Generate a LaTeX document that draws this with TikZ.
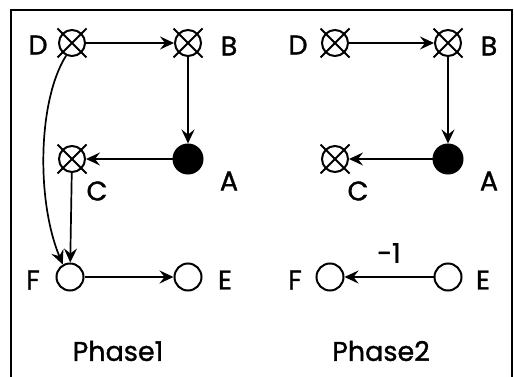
\documentclass[tikz,border=0pt]{standalone}
\usepackage{fontspec}
\setmainfont{Poppins}[FakeBold=1.2]
\usetikzlibrary{arrows.meta}
\begin{document}
\begin{tikzpicture}[x=1pt,y=-1pt,
  font=\fontsize{27}{31}\selectfont,
  every node/.style={inner sep=0pt},
  xnode/.style={circle,draw,line width=2pt,minimum size=26pt},
  onode/.style={circle,draw,line width=2pt,minimum size=27pt},
  anode/.style={circle,fill,draw,line width=1pt,minimum size=30pt},
  edge/.style={line width=1.7pt,-{Stealth[length=14pt,width=13pt,inset=5pt]}},
  lab/.style={anchor=center},
  frame/.style={line width=2.5pt}]
\useasboundingbox (0,0) rectangle (514,377);
\draw[frame] (11,377) -- (11,10) -- (512,10) -- (512,377);
% Phase 1
\node[xnode] (D1) at (72,43) {};
\node[xnode] (B1) at (188,43) {};
\node[anode] (A1) at (188,159) {};
\node[xnode] (C1) at (72,159) {};
\node[onode] (F1) at (70,277) {};
\node[onode] (E1) at (188,277) {};
% Phase 2
\node[xnode] (D2) at (335,43) {};
\node[xnode] (B2) at (448,43) {};
\node[anode] (A2) at (448,159) {};
\node[xnode] (C2) at (335,159) {};
\node[onode] (F2) at (330,277) {};
\node[onode] (E2) at (448,277) {};
% crosses
\foreach \n in {D1,B1,C1,D2,B2,C2}
  \draw[line width=1.8pt] ([shift={(-14.5,-14.5)}]\n.center) -- ([shift={(14.5,14.5)}]\n.center)
        ([shift={(-14.5,14.5)}]\n.center) -- ([shift={(14.5,-14.5)}]\n.center);
% labels
\node[lab] (lD1) at (38,45) {D};
\node[lab] (lB1) at (229,46) {B};
\node[lab] (lA1) at (229,181) {A};
\node[lab] (lC1) at (97,191) {C};
\node[lab] (lF1) at (33,280) {F};
\node[lab] (lE1) at (225,280) {E};
\node[lab] (lD2) at (298,45) {D};
\node[lab] (lB2) at (489,46) {B};
\node[lab] (lA2) at (489,181) {A};
\node[lab] (lC2) at (358,191) {C};
\node[lab] (lF2) at (295,280) {F};
\node[lab] (lE2) at (483,280) {E};
\node[lab] (ph1) at (118,351) {Phase1};
\node[lab] (ph2) at (381,351) {Phase2};
\node[lab] (m1) at (389,253) {-1};
% edges phase 1
\draw[edge] (D1) -- (B1);
\draw[edge] (B1) -- (A1);
\draw[edge] (A1) -- (C1);
\draw[edge] (C1) -- (F1);
\draw[edge] (D1.245) .. controls (38,100) and (36,200) .. (F1.120);
\draw[edge] (F1) -- (E1);
% edges phase 2
\draw[edge] (D2) -- (B2);
\draw[edge] (B2) -- (A2);
\draw[edge] (A2) -- (C2);
\draw[edge] (E2) -- (F2);
\end{tikzpicture}
\end{document}
